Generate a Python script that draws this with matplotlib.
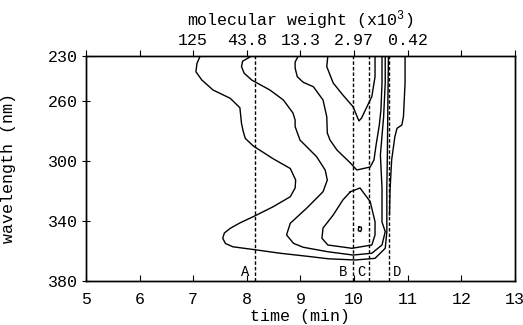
import matplotlib
matplotlib.use("Agg")
import matplotlib.pyplot as plt

plt.rcParams["font.family"] = ["Liberation Mono", "DejaVu Sans Mono"]
plt.rcParams["mathtext.fontset"] = "custom"
plt.rcParams["mathtext.rm"] = "Liberation Mono"
plt.rcParams["mathtext.it"] = "Liberation Mono"

# contour traces: (time in min, wavelength in nm)
outer_t = [7.13, 7.07, 7.05, 7.16, 7.37, 7.69, 7.87, 7.90, 7.93, 7.97, 8.12, 8.49,
           8.81, 8.91, 8.90, 8.81, 8.49, 8.12, 7.87, 7.69, 7.58, 7.55, 7.60, 7.74,
           8.12, 8.62, 9.12, 9.52, 10.02, 10.39, 10.58, 10.61, 10.61, 10.62, 10.63, 10.64]
outer_wl = [230, 234.9, 240.5, 246, 252.7, 258.2, 264.5, 274.9, 280, 284.9, 290, 298.5,
            305, 312.7, 318, 323.8, 330.5, 337.1, 341.3, 344.9, 348, 351.5, 355, 357.2,
            359, 361.5, 363.5, 365.2, 366, 364.9, 358.2, 347.3, 318, 296, 259.3, 230]

second_t = [8.09, 7.92, 7.90, 7.95, 8.09, 8.43, 8.68, 8.86, 8.90, 8.90, 8.99, 9.30,
            9.46, 9.50, 9.42, 9.12, 8.81, 8.74, 8.87, 9.05, 9.51, 9.98, 10.33, 10.52,
            10.58, 10.52, 10.52, 10.49, 10.55, 10.58, 10.58]
second_wl = [230, 233.5, 237.1, 241.5, 246, 252.7, 259.3, 268, 272.7, 277.1, 286, 297.1,
             306, 312.7, 320.5, 331.3, 341.5, 349.3, 354.9, 357.5, 360.5, 362.7, 361.5, 356,
             347.1, 340.7, 318, 296, 270.5, 248, 230]

upper_t = [8.96, 8.90, 8.90, 8.94, 9.05, 9.24, 9.42, 9.49, 9.50, 9.55, 9.68, 9.93,
           10.05, 10.30, 10.37, 10.41, 10.47, 10.50, 10.52, 10.52]
upper_wl = [230, 234, 238, 243.8, 247.5, 250.5, 259.3, 270.5, 281.3, 286, 292.7, 301.3,
            306, 304, 299.3, 289.3, 276, 266, 248, 230]

vee_t = [9.51, 9.49, 9.61, 9.79, 9.98, 10.09, 10.14, 10.21, 10.33, 10.39, 10.39]
vee_wl = [230, 237.1, 248, 256, 263.8, 273.3, 271.3, 266, 257.1, 243.8, 230]

lower_t = [9.93, 10.11, 10.30, 10.39, 10.39, 10.33, 9.96, 9.51, 9.40, 9.42, 9.61, 9.79, 9.93]
lower_wl = [320.5, 318, 327.1, 340.5, 349.3, 356, 358.2, 356, 351.5, 344.7, 336, 326, 320.5]

dot_t = [10.09, 10.13, 10.14, 10.12, 10.08, 10.08, 10.09]
dot_wl = [344, 344, 345.5, 347, 346.5, 345, 344]

edge_t = [10.95, 10.95, 10.92, 10.89, 10.80, 10.76, 10.70, 10.67, 10.66]
edge_wl = [230, 248, 270.5, 276, 278.2, 283.8, 299.3, 319.3, 336]

contours = [(outer_t, outer_wl), (second_t, second_wl), (upper_t, upper_wl),
            (vee_t, vee_wl), (lower_t, lower_wl), (dot_t, dot_wl), (edge_t, edge_wl)]

# fraction markers
marker_names = ["A", "B", "C", "D"]
marker_times = [8.15, 9.98, 10.28, 10.65]
marker_label_t = [7.97, 9.80, 10.14, 10.80]

time_ticks = [5, 6, 7, 8, 9, 10, 11, 12, 13]
wl_ticks = [230, 260, 300, 340, 380]
mw_labels = ["", "", "125", "43.8", "13.3", "2.97", "0.42", "", ""]

fig = plt.figure(figsize=(5.23, 3.25), dpi=100)
ax = fig.add_axes([0.1644, 0.1354, 0.8203, 0.6923])

for t, wl in contours:
    ax.plot(t, wl, color="black", lw=1.0, solid_joinstyle="round")

for name, tm, tl in zip(marker_names, marker_times, marker_label_t):
    ax.axvline(tm, color="black", lw=1.0, ls=(0, (2.5, 1.5)))
    ax.text(tl, 374, name, fontsize=10, ha="center", va="center")

ax.set_xlim(5, 13)
ax.set_ylim(380, 230)
ax.set_xticks(time_ticks)
ax.set_yticks(wl_ticks)
ax.tick_params(axis="x", direction="in", length=4, labelsize=12, pad=8)
ax.tick_params(axis="y", direction="inout", length=6, labelsize=12, pad=3)
ax.set_xlabel("time (min)", fontsize=12)
ax.set_ylabel("wavelength (nm)", fontsize=12)
ax.xaxis.set_label_coords(0.5, -0.125)
ax.yaxis.set_label_coords(-0.162, 0.5)

ax2 = ax.twiny()
ax2.set_xlim(5, 13)
ax2.set_xticks(time_ticks)
ax2.set_xticklabels(mw_labels)
ax2.tick_params(axis="x", direction="out", length=4, labelsize=12, pad=2)
ax2.set_xlabel("molecular weight (x10$^{3}$)", fontsize=12, labelpad=5)

for a in (ax, ax2):
    for s in a.spines.values():
        s.set_linewidth(1.0)

fig.savefig("out.png", dpi=100)
